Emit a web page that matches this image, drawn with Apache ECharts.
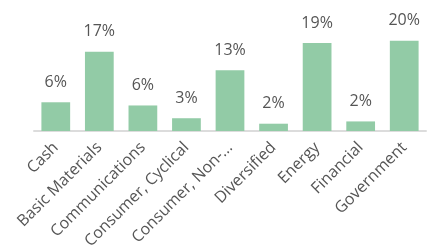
<!DOCTYPE html>
<html>
<head>
<meta charset="utf-8">
<script src="https://cdn.jsdelivr.net/npm/echarts@6/dist/echarts.min.js"></script>
<style>
  html, body { margin: 0; padding: 0; background: #fff; }
  #chart { width: 433px; height: 249px; }
</style>
</head>
<body>
<div id="chart"></div>
<script>
// sector weights, percent
var sectors = ['Cash', 'Basic Materials', 'Communications', 'Consumer, Cyclical',
    'Consumer, Non-cyclical', 'Diversified', 'Energy', 'Financial', 'Government'];
var weights = [6.3, 17.4, 5.6, 2.8, 13.3, 1.6, 19.3, 2.1, 19.8];

var chart = echarts.init(document.getElementById('chart'));
var option = {
    animation: false,
    grid: { left: 34, right: 7, top: 17, bottom: 118, outerBoundsMode: 'none' },
    xAxis: {
        type: 'category',
        data: sectors,
        axisLine: { lineStyle: { color: '#dcdcdc', width: 2 } },
        axisTick: { show: false },
        axisLabel: {
            interval: 0,
            rotate: 45,
            margin: 14,
            color: '#555',
            fontFamily: 'Open Sans',
            fontSize: 16,
            formatter: function (v) {
                return v.length > 18 ? v.slice(0, 14) + '...' : v;
            }
        }
    },
    yAxis: {
        type: 'value',
        min: 0,
        max: 25,
        show: false
    },
    series: [{
        type: 'bar',
        data: weights,
        barWidth: '66%',
        itemStyle: { color: '#92cba6' },
        label: {
            show: true,
            position: 'top',
            distance: 12,
            color: '#555',
            fontFamily: 'Open Sans',
            fontSize: 16,
            formatter: function (p) {
                return Math.round(p.value) + '%';
            }
        }
    }]
};
chart.setOption(option);
</script>
</body>
</html>
